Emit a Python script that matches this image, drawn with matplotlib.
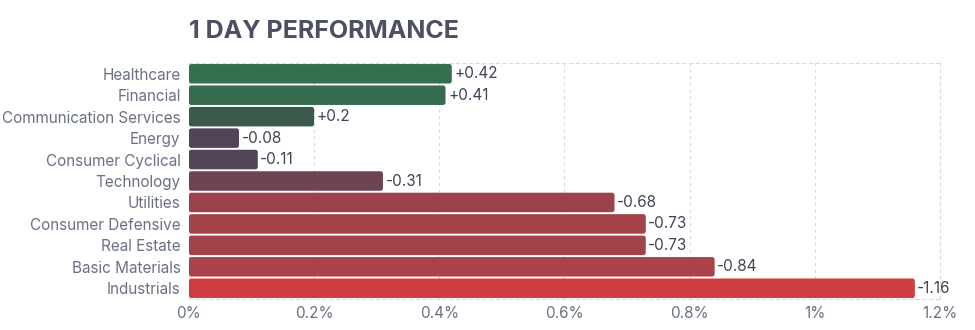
#!/usr/bin/env python3
"""Sector 1 day performance as horizontal bars (length = absolute change)."""

import numpy as np
import matplotlib
matplotlib.use("Agg")
import matplotlib.pyplot as plt
from matplotlib.patches import FancyBboxPatch
from matplotlib.ticker import FuncFormatter, MultipleLocator

plt.rcParams['font.family'] = ['Inter', 'DejaVu Sans']

# data
sectors = ["Healthcare", "Financial", "Communication Services", "Energy",
           "Consumer Cyclical", "Technology", "Utilities", "Consumer Defensive",
           "Real Estate", "Basic Materials", "Industrials"]
changes = [0.42, 0.41, 0.2, -0.08, -0.11, -0.31, -0.68, -0.73, -0.73, -0.84, -1.16]
bar_colors = ["#366f4f", "#376b4f", "#3b5a4c", "#514457", "#514457", "#6e4450",
              "#9c424b", "#a4424a", "#a4424a", "#ab4249", "#cf3d43"]


def round_bars(ax, bars, radius_px=2.5):
    """Swap the plain rectangles for ones with slightly rounded corners."""
    fig = ax.figure
    bbox = ax.get_window_extent()
    x0, x1 = ax.get_xlim()
    y0, y1 = ax.get_ylim()
    x_per_px = abs(x1 - x0) / bbox.width
    y_per_px = abs(y1 - y0) / bbox.height
    for bar in bars:
        x, y = bar.get_xy()
        w, h = bar.get_width(), bar.get_height()
        patch = FancyBboxPatch((x, y), w, h,
                               boxstyle=f"round,pad=0,rounding_size={radius_px * x_per_px}",
                               mutation_aspect=y_per_px / x_per_px,
                               facecolor=bar.get_facecolor(), edgecolor='none', zorder=2)
        bar.remove()
        ax.add_patch(patch)


def main():
    fig = plt.figure(figsize=(9.75, 3.3), dpi=100)
    ax = fig.add_axes([0.1938, 0.094, 0.7702, 0.715])

    y = np.arange(len(sectors))
    widths = np.abs(changes)
    bars = ax.barh(y, widths, height=0.91, color=bar_colors, zorder=2)

    # value labels at bar ends
    for yi, w, v in zip(y, widths, changes):
        ax.text(w + 0.004, yi, f"{v:+g}", va='center', ha='left',
                fontsize=11, color='#3f4456', zorder=3)

    ax.set_xlim(0, 1.2)
    ax.set_ylim(len(sectors) - 0.5, -0.5)
    ax.set_yticks(y)
    ax.set_yticklabels(sectors)
    ax.xaxis.set_major_locator(MultipleLocator(0.2))
    ax.xaxis.set_major_formatter(FuncFormatter(lambda x, _: f"{round(x, 1):g}%"))

    round_bars(ax, bars)

    ax.tick_params(axis='both', length=0, labelsize=11, colors='#6b7185')
    ax.tick_params(axis='y', pad=6)
    ax.tick_params(axis='x', pad=5)

    ax.grid(True, axis='x', linestyle=(0, (3, 3)), color='#dcdcdc', linewidth=0.8, zorder=0)
    for name, spine in ax.spines.items():
        spine.set_linestyle((0, (3, 3)))
        spine.set_color('#dcdcdc')
        spine.set_linewidth(0.8)
    ax.spines['left'].set_visible(False)

    fig.text(0.1938, 0.905, "1 DAY PERFORMANCE", fontsize=18, fontweight='bold',
             color='#4b5063', ha='left', va='center')

    fig.savefig("out.png", dpi=100)
    plt.close(fig)


if __name__ == "__main__":
    main()
